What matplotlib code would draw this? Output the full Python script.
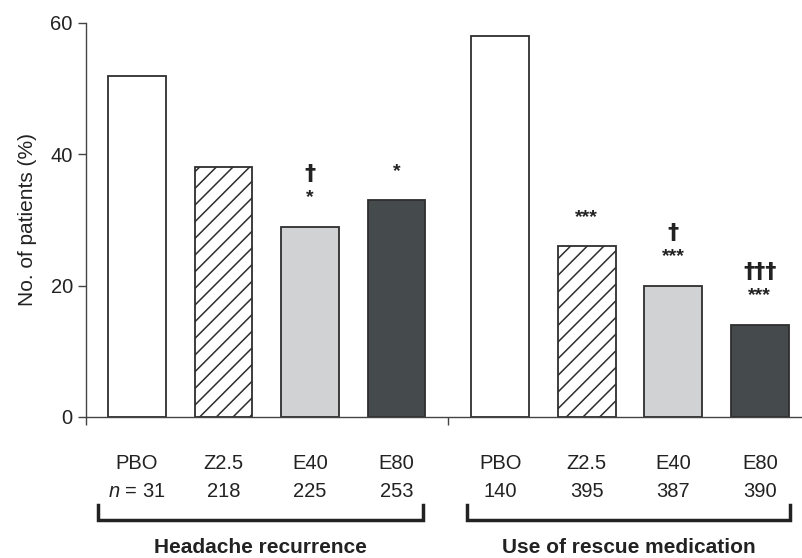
import matplotlib
matplotlib.use("Agg")
import matplotlib.pyplot as plt
import matplotlib.transforms as mtransforms

plt.rcParams['font.family'] = ['Liberation Sans', 'DejaVu Sans']
plt.rcParams['mathtext.fontset'] = 'custom'
plt.rcParams['mathtext.it'] = 'Liberation Sans:italic'
plt.rcParams['mathtext.rm'] = 'Liberation Sans'
plt.rcParams['hatch.linewidth'] = 1.1

# Data
groups = ["Headache recurrence", "Use of rescue medication"]
treatments = ["PBO", "Z2.5", "E40", "E80"]
recurrence = [52, 38, 29, 33]
rescue = [58, 26, 20, 14]
n_recurrence = ["31", "218", "225", "253"]
n_rescue = ["140", "395", "387", "390"]
# significance marks: (stars, daggers)
marks_recurrence = [("", ""), ("", ""), ("*", "\u2020"), ("*", "")]
marks_rescue = [("", ""), ("***", ""), ("***", "\u2020"), ("***", "\u2020\u2020\u2020")]

# bar styles per treatment
face = ["white", "white", "#d1d2d4", "#454b4d"]
hatches = [None, "//", None, None]
edge = "#2e2e2e"
txt = "#222222"

fig = plt.figure(figsize=(8.03, 5.58), dpi=100)
ax = fig.add_axes([86 / 803, (558 - 417) / 558, 1 - 86 / 803, 394 / 558])

gap = 4.2
width = 0.67
all_vals = [recurrence, rescue]
all_n = [n_recurrence, n_rescue]
all_marks = [marks_recurrence, marks_rescue]

trans = mtransforms.blended_transform_factory(ax.transData, ax.transAxes)

for g, vals in enumerate(all_vals):
    xs = [i + g * gap for i in range(len(vals))]
    for i, (x, v) in enumerate(zip(xs, vals)):
        ax.bar(x, v, width=width, color=face[i], edgecolor=edge,
               linewidth=1.3, hatch=hatches[i], zorder=2)
        stars, daggers = all_marks[g][i]
        if stars:
            ax.annotate(stars, (x, v), xytext=(0, 21), textcoords="offset points",
                        ha="center", va="center", fontsize=14, fontweight="bold",
                        color=txt)
        if daggers:
            ax.annotate(daggers, (x, v), xytext=(0, 38), textcoords="offset points",
                        ha="center", va="center", fontsize=16, fontweight="bold",
                        family="DejaVu Sans", color=txt)
        # category and n labels
        ax.text(x, -0.117, treatments[i], transform=trans, ha="center",
                va="center", fontsize=14.5, color=txt)
        nlab = all_n[g][i]
        if g == 0 and i == 0:
            nlab = "$\\it{n}$ = " + nlab
        ax.text(x, -0.188, nlab, transform=trans, ha="center",
                va="center", fontsize=14.5, color=txt)

    # bracket under each group
    x0 = xs[0] - (0.45 if g == 0 else 0.385)
    x1 = xs[-1] + (0.31 if g == 0 else 0.35)
    ax.plot([x0, x0, x1, x1], [-0.223, -0.261, -0.261, -0.223], transform=trans,
            color=txt, linewidth=2.5, clip_on=False, solid_joinstyle="miter")
    ax.text((x0 + x1) / 2, -0.332, groups[g], transform=trans, ha="center",
            va="center", fontsize=15, fontweight="bold", color=txt)

ax.set_xlim(-0.59, 7.7)
ax.set_ylim(0, 60)
ax.set_yticks([0, 20, 40, 60])
ax.set_xticks([-0.59, 3.6])
ax.set_xticklabels(["", ""])
ax.tick_params(axis="both", direction="out", length=6, width=1, color="#444444",
               labelsize=14.5, labelcolor=txt)
ax.spines["top"].set_visible(False)
ax.spines["right"].set_visible(False)
for s in ("left", "bottom"):
    ax.spines[s].set_color("#444444")
    ax.spines[s].set_linewidth(1)
ax.spines["left"].set_bounds(0, 60)
ax.set_ylabel("No. of patients (%)", fontsize=15, color=txt, labelpad=10)

fig.savefig("out.png", dpi=100)
